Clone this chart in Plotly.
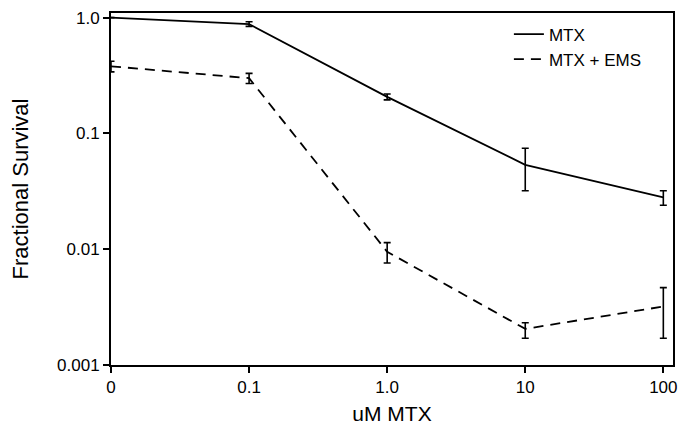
import plotly.graph_objects as go

# --- data ---
doses = ["0", "0.1", "1.0", "10", "100"]
mtx = [1.0, 0.88, 0.207, 0.0535, 0.0281]
mtx_err_plus = [0.0, 0.04, 0.012, 0.021, 0.0039]
mtx_err_minus = [0.0, 0.04, 0.012, 0.0215, 0.0041]
ems = [0.38, 0.30, 0.0095, 0.00205, 0.0032]
ems_err_plus = [0.04, 0.03, 0.0019, 0.00027, 0.00146]
ems_err_minus = [0.04, 0.03, 0.0019, 0.00035, 0.0015]

FONT = "Liberation Sans"

fig = go.Figure()
fig.add_trace(go.Scatter(
    x=doses, y=mtx, mode="lines", name="MTX",
    line=dict(color="black", width=1.8),
    error_y=dict(type="data", array=mtx_err_plus, arrayminus=mtx_err_minus,
                 color="black", thickness=1.6, width=3.5),
))
fig.add_trace(go.Scatter(
    x=doses, y=ems, mode="lines", name="MTX + EMS",
    line=dict(color="black", width=1.8, dash="10px,7px"),
    error_y=dict(type="data", array=ems_err_plus, arrayminus=ems_err_minus,
                 color="black", thickness=1.6, width=3.5),
))

# The page body adds an 8px offset, so the figure is 8px smaller each way.
fig.update_layout(
    width=683, height=428,
    margin=dict(l=103, r=18, t=5, b=71, autoexpand=False),
    paper_bgcolor="white", plot_bgcolor="white",
    font=dict(family=FONT, color="black", size=16),
    showlegend=True,
    legend=dict(x=0.708, y=0.99, xanchor="left", yanchor="top",
                bgcolor="rgba(0,0,0,0)", itemwidth=30, tracegroupgap=0,
                font=dict(family=FONT, size=17, color="black")),
    xaxis=dict(
        type="category", range=[0, 4.07], automargin=False,
        showline=True, linecolor="black", linewidth=2, mirror=True,
        ticks="outside", ticklen=6, tickwidth=1.5, tickcolor="black",
        showgrid=False, zeroline=False,
        tickfont=dict(family=FONT, size=17, color="black"),
        title=dict(text="uM MTX", font=dict(family=FONT, size=21, color="black"),
                   standoff=10),
    ),
    yaxis=dict(
        type="log", range=[-3, 0.04], automargin=False,
        tickvals=[0.001, 0.01, 0.1, 1.0],
        ticktext=["0.001", "0.01", "0.1", "1.0"],
        showline=True, linecolor="black", linewidth=2, mirror=True,
        ticks="outside", ticklen=6, tickwidth=1.5, tickcolor="black",
        showgrid=False, zeroline=False,
        tickfont=dict(family=FONT, size=17, color="black"),
        title=dict(text="Fractional Survival",
                   font=dict(family=FONT, size=22, color="black"),
                   standoff=24),
    ),
)

fig.write_html("out.html")
